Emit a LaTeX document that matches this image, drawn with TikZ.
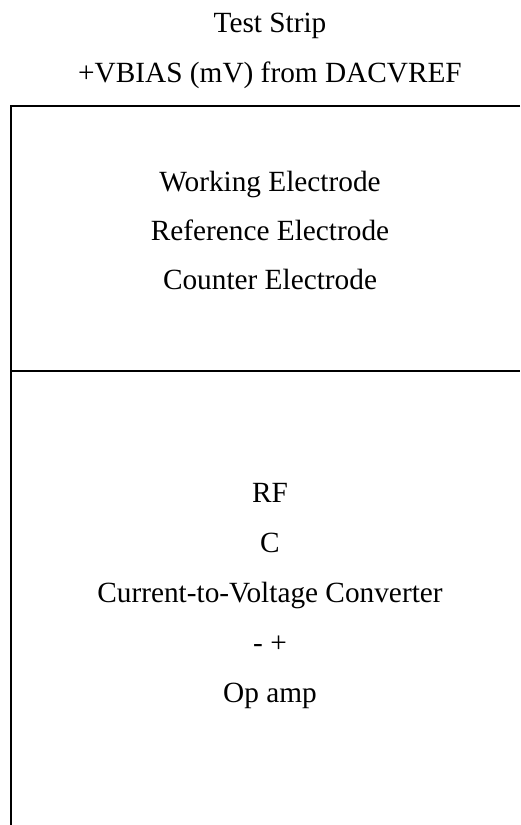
\documentclass[tikz,border=0pt]{standalone}
\usepackage{fontspec}
\setmainfont{Liberation Serif}
\begin{document}
\begin{tikzpicture}[x=1pt,y=-1pt,
    lbl/.style={anchor=base,inner sep=0pt,font=\fontsize{29.3}{35}\selectfont}]
  \useasboundingbox (0,0) rectangle (520,825);
  \coordinate (TL) at (11,106);
  \coordinate (TR) at (520,106);
  \coordinate (ML) at (11,371);
  \coordinate (MR) at (520,371);
  \coordinate (BL) at (11,825);
  \draw[line width=2pt] (TR) -- (TL) -- (BL);
  \draw[line width=2pt] (ML) -- (MR);
  \node[lbl] (strip) at (270,32) {Test Strip};
  \node[lbl] (vbias) at (270,82) {+VBIAS (mV) from DACVREF};
  \node[lbl] (we) at (270,191) {Working Electrode};
  \node[lbl] (re) at (270,240) {Reference Electrode};
  \node[lbl] (ce) at (270,289) {Counter Electrode};
  \node[lbl] (rf) at (270,502) {RF};
  \node[lbl] (cap) at (270,552) {C};
  \node[lbl] (conv) at (270,602) {Current-to-Voltage Converter};
  \node[lbl] (pm) at (270,652) {- +};
  \node[lbl] (opamp) at (270,702) {Op amp};
\end{tikzpicture}
\end{document}
